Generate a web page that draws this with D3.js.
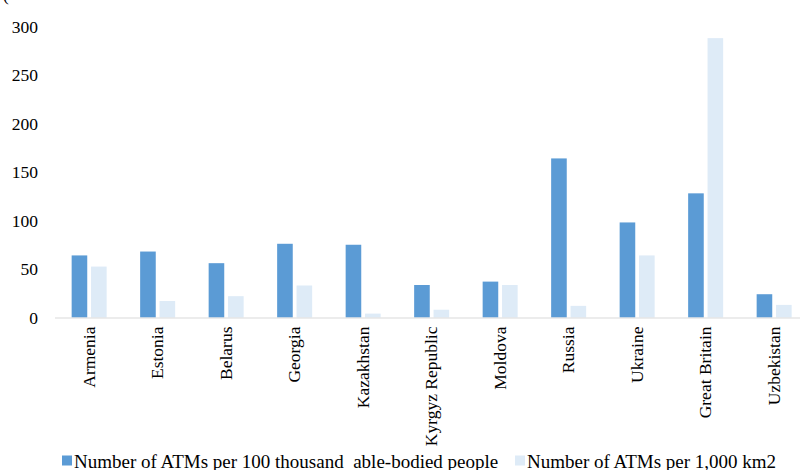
<!DOCTYPE html>
<html>
<head>
<meta charset="utf-8">
<script src="https://cdn.jsdelivr.net/npm/d3@7/dist/d3.min.js"></script>
<style>
  html, body { margin: 0; padding: 0; background: #fff; }
  svg text { font-family: "Times New Roman", "Liberation Serif", "DejaVu Serif", serif !important; white-space: pre; }
</style>
</head>
<body>
<svg id="chart" width="800" height="470"></svg>
<script>
// ATM density by country
const categories = ["Armenia", "Estonia", "Belarus", "Georgia", "Kazakhstan", "Kyrgyz Republic",
  "Moldova", "Russia", "Ukraine", "Great Britain", "Uzbekistan"];
const seriesNames = ["Number of ATMs per 100 thousand  able-bodied people", "Number of ATMs per 1,000 km2"];
const perPeople = [64, 68, 56, 76, 75, 33.5, 37, 164, 98, 128, 24];
const perArea = [52.5, 17, 22, 33, 4, 8, 33.5, 12, 64, 288, 13];
const yTicks = [0, 50, 100, 150, 200, 250, 300];
const colors = ["#5B9BD5", "#DEEBF7"];

const svg = d3.select("#chart");
const fontSize = 17.5;
const legendFontSize = 19;

const x0 = d3.scaleBand().domain(categories).range([54.9, 808.4])
  .paddingInner(0.489).paddingOuter(0.2445);
const x1 = d3.scaleBand().domain([0, 1]).range([0, x0.bandwidth()]).paddingInner(0.196);
const y = d3.scaleLinear().domain([0, 300]).range([317.5, 26.5]);

// partially visible heading at the top edge
svg.append("text").attr("x", 3).attr("y", 1).attr("font-size", fontSize).attr("fill", "#000").text("(");

// y axis labels
const yAxis = svg.append("g").attr("transform", "translate(38,0)")
  .call(d3.axisLeft(y).tickValues(yTicks).tickSize(0).tickPadding(0).tickFormat(d3.format("d")));
yAxis.select(".domain").remove();
yAxis.selectAll("text").attr("font-size", fontSize).attr("fill", "#000");

// bars
const rows = categories.map((c, i) => ({ c, vals: [perPeople[i], perArea[i]] }));
const groups = svg.append("g").selectAll("g").data(rows).join("g")
  .attr("transform", d => `translate(${x0(d.c)},0)`);
groups.selectAll("rect").data(d => d.vals.map((v, k) => ({ v, k }))).join("rect")
  .attr("x", d => x1(d.k))
  .attr("width", x1.bandwidth())
  .attr("y", d => y(d.v))
  .attr("height", d => y(0) - y(d.v))
  .attr("fill", d => colors[d.k]);

// x axis with rotated category labels
const xAxis = svg.append("g").attr("transform", `translate(0,${y(0)})`)
  .call(d3.axisBottom(x0).tickSize(0).tickSizeOuter(0));
xAxis.select(".domain").attr("stroke", "#d9d9d9").attr("stroke-width", 1.2)
  .attr("d", `M55,0.5H800`);
xAxis.selectAll(".tick text")
  .attr("font-size", fontSize).attr("fill", "#000")
  .attr("text-anchor", "end")
  .attr("transform", "rotate(-90)")
  .attr("x", -9).attr("y", 0).attr("dy", "0.33em");

// legend
const legend = svg.append("g");
const legendItems = [{ x: 62, name: seriesNames[0], k: 0 }, { x: 515, name: seriesNames[1], k: 1 }];
legendItems.forEach(item => {
  legend.append("rect").attr("x", item.x).attr("y", 455.5).attr("width", 10).attr("height", 10)
    .attr("fill", colors[item.k]);
  legend.append("text").attr("x", item.x + 12).attr("y", 467.5)
    .attr("font-size", legendFontSize).attr("fill", "#000").text(item.name);
});
</script>
</body>
</html>
